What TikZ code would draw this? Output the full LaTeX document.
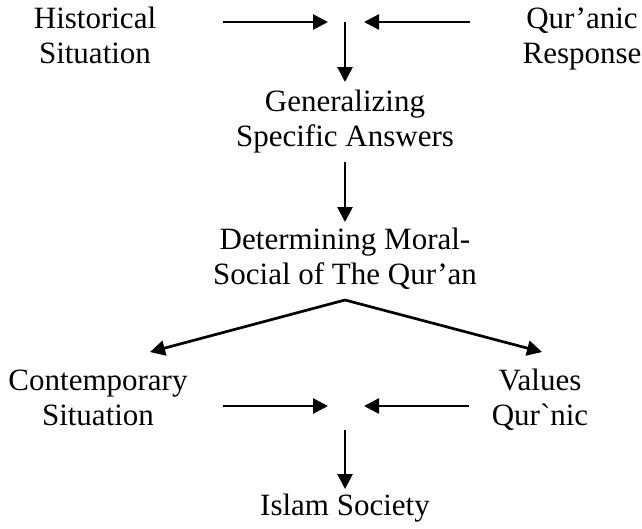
\documentclass[tikz,border=0pt]{standalone}
\usepackage{fontspec}
\setmainfont{Liberation Serif}[Ligatures=TeXOff]
\usetikzlibrary{arrows.meta}
\begin{document}
\begin{tikzpicture}[x=1pt,y=-1pt,
  lbl/.style={align=center, font=\fontsize{31}{34.5}\selectfont, inner sep=0pt, anchor=base},
  arr/.style={-{Triangle[length=15pt,width=15pt]}, line width=2.7pt}]
\useasboundingbox (0,0) rectangle (642,528);
\fill[white] (0,0) rectangle (642,528);
\node[lbl] (hist) at (95,63) {Historical\\Situation};
\node[lbl] (resp) at (582,63) {Qur’anic\\Response};
\node[lbl] (gen) at (345,146) {Generalizing\\Specific Answers};
\node[lbl] (det) at (345,284) {Determining Moral-\\Social of The Qur’an};
\node[lbl] (cont) at (98,425) {Contemporary\\Situation};
\node[lbl] (val) at (540,425) {Values\\Qur`nic};
\node[lbl] (isl) at (345,515) {Islam Society};
\coordinate (t1) at (223,22);
\coordinate (t1e) at (328,22);
\coordinate (t2) at (470,22);
\coordinate (t2e) at (364,22);
\coordinate (t3) at (345,22);
\coordinate (t3e) at (345,82);
\coordinate (m1) at (345,162);
\coordinate (m1e) at (345,222);
\coordinate (apex) at (345,300);
\coordinate (vl) at (150,352);
\coordinate (vr) at (542,352);
\coordinate (b1) at (223,406);
\coordinate (b1e) at (328,406);
\coordinate (b2) at (469,406);
\coordinate (b2e) at (364,406);
\coordinate (b3) at (345,430);
\coordinate (b3e) at (345,489);
\draw[arr] (t1) -- (t1e);
\draw[arr] (t2) -- (t2e);
\draw[arr] (t3) -- (t3e);
\draw[arr] (m1) -- (m1e);
\draw[arr] (apex) -- (vl);
\draw[arr] (apex) -- (vr);
\draw[arr] (b1) -- (b1e);
\draw[arr] (b2) -- (b2e);
\draw[arr] (b3) -- (b3e);
\end{tikzpicture}
\end{document}
